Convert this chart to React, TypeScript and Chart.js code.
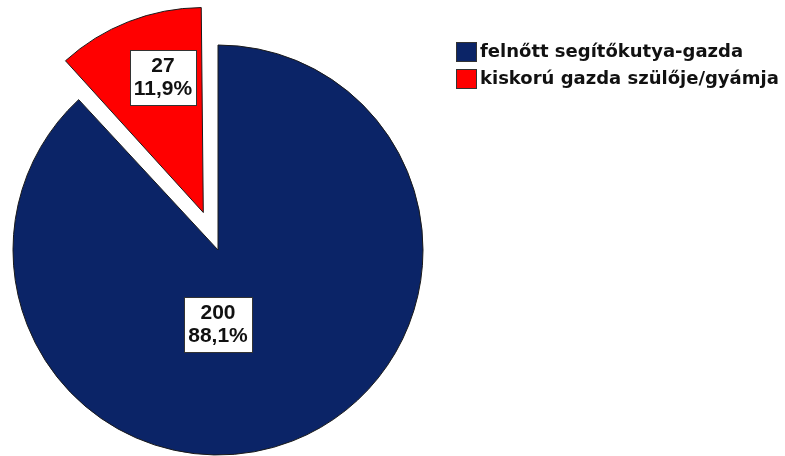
import React, { useEffect, useRef } from "react";
import { Chart, ArcElement, PieController } from "chart.js";

Chart.register(ArcElement, PieController);

const categories = ["felnőtt segítőkutya-gazda", "kiskorú gazda szülője/gyámja"];
const counts = [200, 27];
const sliceColors = ["#0b2467", "#ff0000"];

const W = 785;
const H = 456;

// label placement per slice: angle (deg, canvas convention) and distance as fraction of radius
const labelAngles = [90, -107.7];
const labelDist = [0.363, 0.883];

const labelFont = "bold 21px 'Liberation Sans', Arial, sans-serif";
const legendFont = "bold 18px 'DejaVu Sans', Verdana, sans-serif";

const fmtPct = (v: number, total: number) =>
  (Math.round((v / total) * 1000) / 10).toFixed(1).replace(".", ",") + "%";

// Chart.js grows an offset arc's radius by offset/4 * fix; undo that so the exploded slice keeps the pie radius
const offsetRadiusFix = {
  id: "offsetRadiusFix",
  afterDatasetUpdate(chart: any, args: any) {
    const meta = args.meta;
    meta.data.forEach((arc: any) => {
      const off = (arc.options && arc.options.offset) || 0;
      if (!off) return;
      const fix = 1 - Math.sin(Math.min(Math.PI, arc.circumference || 0));
      arc.outerRadius = arc.outerRadius - (off / 4) * fix;
    });
  },
};

const labelPlugin = {
  id: "sliceLabels",
  afterDatasetsDraw(chart: any) {
    const ctx = chart.ctx as CanvasRenderingContext2D;
    const meta = chart.getDatasetMeta(0);
    const R = meta.controller.outerRadius;
    const data = chart.data.datasets[0].data as number[];
    const total = data.reduce((a, b) => a + b, 0);
    ctx.save();
    ctx.font = labelFont;
    meta.data.forEach((arc: any, i: number) => {
      const { x, y } = arc.getProps(["x", "y"], true);
      const a = (labelAngles[i] * Math.PI) / 180;
      const cx = x + Math.cos(a) * R * labelDist[i];
      const cy = y + Math.sin(a) * R * labelDist[i];
      const l1 = String(data[i]);
      const l2 = fmtPct(data[i], total);
      const tw = Math.max(ctx.measureText(l1).width, ctx.measureText(l2).width);
      const bw = Math.round(tw + 8);
      const bh = 55;
      const bx = Math.round(cx - bw / 2) + 0.5;
      const by = Math.round(cy - bh / 2) + 0.5;
      ctx.fillStyle = "#ffffff";
      ctx.fillRect(bx, by, bw, bh);
      ctx.strokeStyle = "#333333";
      ctx.lineWidth = 1;
      ctx.strokeRect(bx, by, bw, bh);
      ctx.fillStyle = "#111111";
      ctx.textAlign = "center";
      ctx.textBaseline = "middle";
      ctx.fillText(l1, cx, cy - 11);
      ctx.fillText(l2, cx, cy + 12);
    });
    ctx.restore();
  },
};

const legendPlugin = {
  id: "customLegend",
  afterDraw(chart: any) {
    const ctx = chart.ctx as CanvasRenderingContext2D;
    const labels = chart.data.labels as string[];
    const colors = chart.data.datasets[0].backgroundColor as string[];
    ctx.save();
    ctx.font = legendFont;
    ctx.textAlign = "left";
    ctx.textBaseline = "middle";
    labels.forEach((lab, i) => {
      const top = 42 + i * 27;
      ctx.fillStyle = colors[i];
      ctx.fillRect(456.5, top + 0.5, 20, 19);
      ctx.strokeStyle = "#333333";
      ctx.lineWidth = 1;
      ctx.strokeRect(456.5, top + 0.5, 20, 19);
      ctx.fillStyle = "#111111";
      ctx.fillText(lab, 480, top + 10.5);
    });
    ctx.restore();
  },
};

export default function App() {
  const ref = useRef<HTMLCanvasElement | null>(null);
  useEffect(() => {
    if (!ref.current) return;
    const chart = new Chart(ref.current, {
      type: "pie",
      data: {
        labels: categories,
        datasets: [
          {
            data: counts,
            backgroundColor: sliceColors,
            borderColor: "#1a1a1a",
            borderWidth: 1,
            offset: [0, 161],
          },
        ],
      },
      options: {
        responsive: false,
        animation: false,
        events: [],
        devicePixelRatio: 1,
        radius: 205,
        layout: { padding: { left: 0, right: W - 436, top: 44, bottom: 0 } },
        plugins: {
          legend: { display: false },
          tooltip: { enabled: false },
        },
      } as any,
      plugins: [offsetRadiusFix, labelPlugin, legendPlugin],
    });
    return () => chart.destroy();
  }, []);
  return (
    <div style={{ position: "absolute", left: 0, top: 0, width: W, height: H, background: "#fff" }}>
      <canvas ref={ref} width={W} height={H} style={{ display: "block" }} />
    </div>
  );
}
